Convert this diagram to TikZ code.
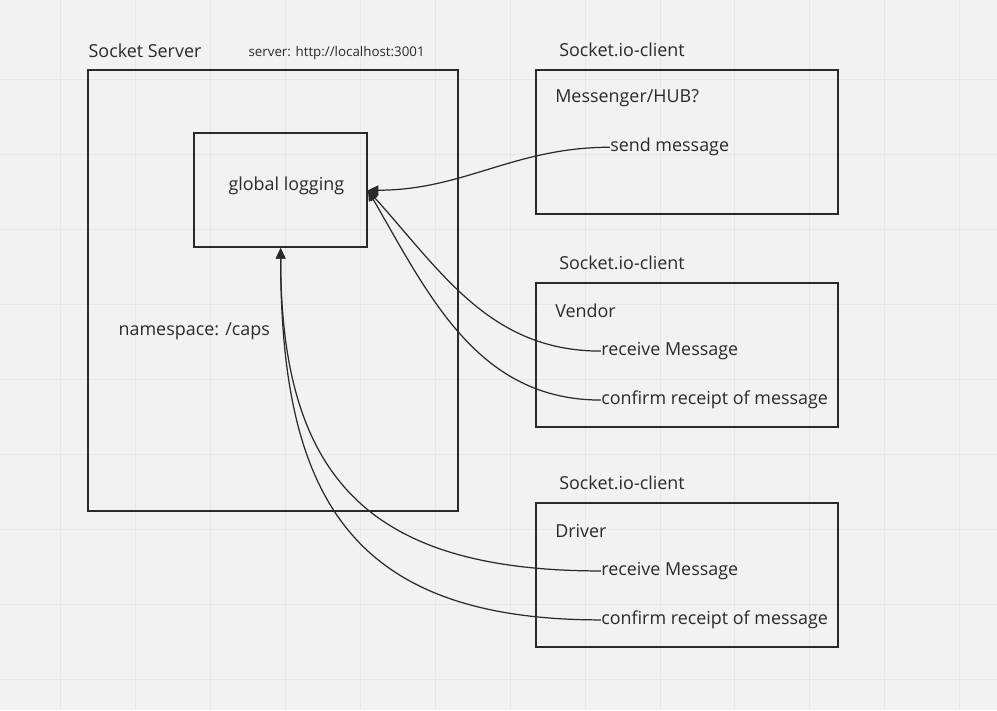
\documentclass[tikz,border=0pt]{standalone}
\usepackage{fontspec}
\setmainfont{Open Sans}
\usetikzlibrary{arrows.meta}
\definecolor{paper}{HTML}{F2F2F2}
\definecolor{gridline}{HTML}{E7E7E7}
\definecolor{ink}{HTML}{2A2A2A}

\begin{document}
\begin{tikzpicture}[
  x=0.02cm,y=-0.02cm,
  box/.style={draw=ink,line width=1pt,inner sep=0pt},
  label/.style={anchor=west,inner sep=0pt,text=ink,font=\fontsize{10.2}{12}\selectfont},
  small label/.style={label,font=\fontsize{7.6}{9}\selectfont},
  link/.style={draw=ink,line width=0.7pt,-{Triangle[length=6pt,width=5.5pt]}}
]
% paper and grid
\fill[paper] (0,0) rectangle (997,710);
\foreach \x in {60,135,...,960} \draw[gridline] (\x,0) -- (\x,710);
\foreach \y in {79,154,...,679} \draw[gridline] (0,\y) -- (997,\y);

% socket server
\node[box,minimum width=7.4cm,minimum height=8.82cm] (server) at (273,290.5) {};
\node[label] (servertitle) at (88,50) {Socket Server};
\node[small label] (url) at (248,53) {server: http://localhost:3001};
\node[box,minimum width=3.46cm,minimum height=2.28cm] (log) at (280.5,190) {};
\node[label] (logtext) at (228,186) {global logging};
\node[label] (caps) at (118,331) {namespace: /caps};

% clients
\foreach \name/\y/\title in {hub/142/{Messenger/HUB?},vendor/355/Vendor,driver/575/Driver} {
  \node[box,minimum width=6.04cm,minimum height=2.88cm] (\name) at (687,\y) {};
  \node[label] (\name client) at (559,\y-92) {Socket.io-client};
  \node[label] (\name title) at (555,\y-44) {\title};
}
\node[label] (send) at (610,147) {send message};
\node[label] (vendor recv) at (601,351) {receive Message};
\node[label] (vendor conf) at (601,400) {confirm receipt of message};
\node[label] (driver recv) at (601,571) {receive Message};
\node[label] (driver conf) at (601,620) {confirm receipt of message};

% connectors
\draw[link] (send.west) to[out=180,in=0] (log.east);
\draw[link] (vendor recv.west) to[out=180,in=-48] (log.east);
\draw[link] (vendor conf.west) to[out=180,in=-60] (log.east);
\draw[link] (driver recv.west) to[out=180,in=-90,looseness=1.3] (log.south);
\draw[link] (driver conf.west) to[out=180,in=-90,looseness=1.3] (log.south);
\end{tikzpicture}
\end{document}
